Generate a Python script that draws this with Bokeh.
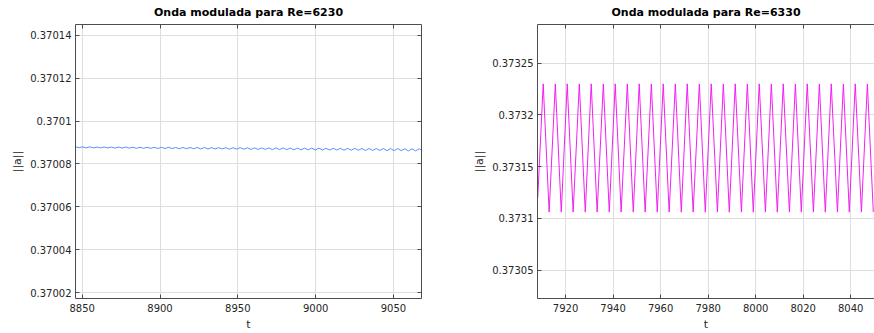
from bokeh.plotting import figure
from bokeh.layouts import row
from bokeh.models import Range1d, FixedTicker, LinearAxis, CustomJSTickFormatter, CustomLabelingPolicy
from bokeh.embed import file_html
from bokeh.resources import INLINE

# ---------------- data ----------------
left_title = "Onda modulada para Re=6230"
right_title = "Onda modulada para Re=6330"
x_label = "t"
y_label = "||a||"

left_t = [8845.7, 8848.0, 8850.3, 8852.6, 8854.9, 8857.2, 8859.5, 8861.8, 8864.1, 8866.4,
          8868.7, 8871.0, 8873.3, 8875.6, 8877.9, 8880.2, 8882.5, 8884.8, 8887.1, 8889.4,
          8891.7, 8894.0, 8896.3, 8898.6, 8900.9, 8903.2, 8905.5, 8907.8, 8910.1, 8912.4,
          8914.7, 8917.0, 8919.3, 8921.6, 8923.9, 8926.2, 8928.5, 8930.8, 8933.1, 8935.4,
          8937.7, 8940.0, 8942.3, 8944.6, 8946.9, 8949.2, 8951.5, 8953.8, 8956.1, 8958.4,
          8960.7, 8963.0, 8965.3, 8967.6, 8969.9, 8972.2, 8974.5, 8976.8, 8979.1, 8981.4,
          8983.7, 8986.0, 8988.3, 8990.6, 8992.9, 8995.2, 8997.5, 8999.8, 9002.1, 9004.4,
          9006.7, 9009.0, 9011.3, 9013.6, 9015.9, 9018.2, 9020.5, 9022.8, 9025.1, 9027.4,
          9029.7, 9032.0, 9034.3, 9036.6, 9038.9, 9041.2, 9043.5, 9045.8, 9048.1, 9050.4,
          9052.7, 9055.0, 9057.3, 9059.6, 9061.9, 9064.2, 9066.5, 9068.8]
left_a = [0.3700880, 0.3700876, 0.3700880, 0.3700875, 0.3700880, 0.3700875, 0.3700879, 0.3700875, 0.3700879, 0.3700875,
          0.3700879, 0.3700874, 0.3700879, 0.3700874, 0.3700879, 0.3700874, 0.3700878, 0.3700873, 0.3700878, 0.3700873,
          0.3700878, 0.3700873, 0.3700878, 0.3700872, 0.3700878, 0.3700872, 0.3700878, 0.3700872, 0.3700877, 0.3700871,
          0.3700877, 0.3700871, 0.3700877, 0.3700871, 0.3700877, 0.3700870, 0.3700877, 0.3700870, 0.3700876, 0.3700870,
          0.3700876, 0.3700870, 0.3700876, 0.3700869, 0.3700876, 0.3700869, 0.3700876, 0.3700869, 0.3700875, 0.3700868,
          0.3700875, 0.3700868, 0.3700875, 0.3700868, 0.3700875, 0.3700867, 0.3700875, 0.3700867, 0.3700875, 0.3700867,
          0.3700874, 0.3700866, 0.3700874, 0.3700866, 0.3700874, 0.3700866, 0.3700874, 0.3700865, 0.3700874, 0.3700865,
          0.3700873, 0.3700865, 0.3700873, 0.3700865, 0.3700873, 0.3700864, 0.3700873, 0.3700864, 0.3700873, 0.3700864,
          0.3700872, 0.3700863, 0.3700872, 0.3700863, 0.3700872, 0.3700863, 0.3700872, 0.3700862, 0.3700872, 0.3700862,
          0.3700872, 0.3700862, 0.3700871, 0.3700861, 0.3700871, 0.3700861, 0.3700871, 0.3700861]

right_t = [7908.3,
           7910.6, 7913.1, 7915.7, 7918.2, 7920.7, 7923.2, 7925.8, 7928.3, 7930.8, 7933.3,
           7935.9, 7938.4, 7940.9, 7943.4, 7946.0, 7948.5, 7951.0, 7953.5, 7956.1, 7958.6,
           7961.1, 7963.6, 7966.2, 7968.7, 7971.2, 7973.7, 7976.3, 7978.8, 7981.3, 7983.9,
           7986.4, 7988.9, 7991.4, 7994.0, 7996.5, 7999.0, 8001.5, 8004.1, 8006.6, 8009.1,
           8011.6, 8014.2, 8016.7, 8019.2, 8021.7, 8024.3, 8026.8, 8029.3, 8031.8, 8034.4,
           8036.9, 8039.4, 8041.9, 8044.5, 8047.0, 8049.5]
right_a = [0.373120,
           0.373230, 0.373106, 0.373230, 0.373106, 0.373230, 0.373106, 0.373230, 0.373106, 0.373230, 0.373106,
           0.373230, 0.373106, 0.373230, 0.373106, 0.373230, 0.373106, 0.373230, 0.373106, 0.373230, 0.373106,
           0.373230, 0.373106, 0.373230, 0.373106, 0.373230, 0.373106, 0.373230, 0.373106, 0.373230, 0.373106,
           0.373230, 0.373106, 0.373230, 0.373106, 0.373230, 0.373106, 0.373230, 0.373106, 0.373230, 0.373106,
           0.373230, 0.373106, 0.373230, 0.373106, 0.373230, 0.373106, 0.373230, 0.373106, 0.373230, 0.373106,
           0.373230, 0.373106, 0.373230, 0.373106, 0.373230, 0.373106]

left_xticks = [8850, 8900, 8950, 9000, 9050]
left_yticks = [0.37002, 0.37004, 0.37006, 0.37008, 0.37010, 0.37012, 0.37014]
right_xticks = [7920, 7940, 7960, 7980, 8000, 8020, 8040]
right_yticks = [0.37305, 0.37310, 0.37315, 0.37320, 0.37325]

left_xrange = (8845.7, 9068.0)
left_yrange = (0.3700172, 0.3701451)
right_xrange = (7908.2, 8050.0)
right_yrange = (0.3730225, 0.3732874)

# ---------------- styling ----------------
FONT = "DejaVu Sans"
TXT = "#262626"
AXC = "#4d4d4d"
GRID = "#dedede"

yfmt = "return parseFloat(tick.toFixed(5)).toString();"
xfmt = "return tick.toFixed(0);"


def tick_only_axis(ticks):
    # box-side axis: inward ticks, no tick labels at all
    return LinearAxis(ticker=FixedTicker(ticks=ticks),
                      major_label_policy=CustomLabelingPolicy(code="return [];"),
                      major_label_text_font_size="1px",
                      major_tick_in=4, major_tick_out=0, minor_tick_in=0, minor_tick_out=0,
                      major_label_standoff=0, axis_line_color=AXC, major_tick_line_color=AXC)


def make(title, xr, yr, xt, yt, border_left, border_right, frame_w, box_right):
    p = figure(width=border_left + frame_w + border_right, height=333,
               frame_width=frame_w, frame_height=274,
               x_range=Range1d(*xr), y_range=Range1d(*yr),
               output_backend="svg", toolbar_location=None,
               min_border_left=border_left, min_border_right=border_right,
               min_border_top=24, min_border_bottom=35,
               background_fill_color="white", border_fill_color="white")
    p.outline_line_color = None
    p.title.text = title
    p.title.align = "center"
    p.title.text_font = FONT
    p.title.text_font_size = "11px"
    p.title.text_font_style = "bold"
    p.title.text_color = "#000000"
    p.title.standoff = 3

    p.xaxis.ticker = FixedTicker(ticks=xt)
    p.yaxis.ticker = FixedTicker(ticks=yt)
    p.xaxis.formatter = CustomJSTickFormatter(code=xfmt)
    p.yaxis.formatter = CustomJSTickFormatter(code=yfmt)
    p.xaxis.axis_label = x_label
    p.yaxis.axis_label = y_label
    for ax in (p.xaxis[0], p.yaxis[0]):
        ax.major_tick_in = 4
        ax.major_tick_out = 0
        ax.minor_tick_in = 0
        ax.minor_tick_out = 0
        ax.axis_line_color = AXC
        ax.major_tick_line_color = AXC
        ax.major_label_text_font = FONT
        ax.major_label_text_font_size = "10px"
        ax.major_label_text_color = TXT
        ax.axis_label_text_font = FONT
        ax.axis_label_text_font_size = "11px"
        ax.axis_label_text_font_style = "normal"
        ax.axis_label_text_color = TXT
    p.xaxis.major_label_standoff = 5
    p.xaxis.axis_label_standoff = 3
    p.yaxis.major_label_standoff = 4
    p.yaxis.axis_label_standoff = 3

    p.xgrid.ticker = FixedTicker(ticks=xt)
    p.ygrid.ticker = FixedTicker(ticks=yt)
    p.grid.grid_line_color = GRID
    p.grid.grid_line_width = 1

    p.add_layout(tick_only_axis(xt), "above")
    if box_right:
        p.add_layout(tick_only_axis(yt), "right")
    return p


pl = make(left_title, left_xrange, left_yrange, left_xticks, left_yticks, 75, 16, 346, True)
pl.line(left_t, left_a, line_color="#5b8ff9", line_width=1)

pr = make(right_title, right_xrange, right_yrange, right_xticks, right_yticks, 100, 0, 337, False)
pr.line(right_t, right_a, line_color="#f020f0", line_width=1)

layout = row(pl, pr, spacing=0)
open("out.html", "w").write(file_html(layout, INLINE))
